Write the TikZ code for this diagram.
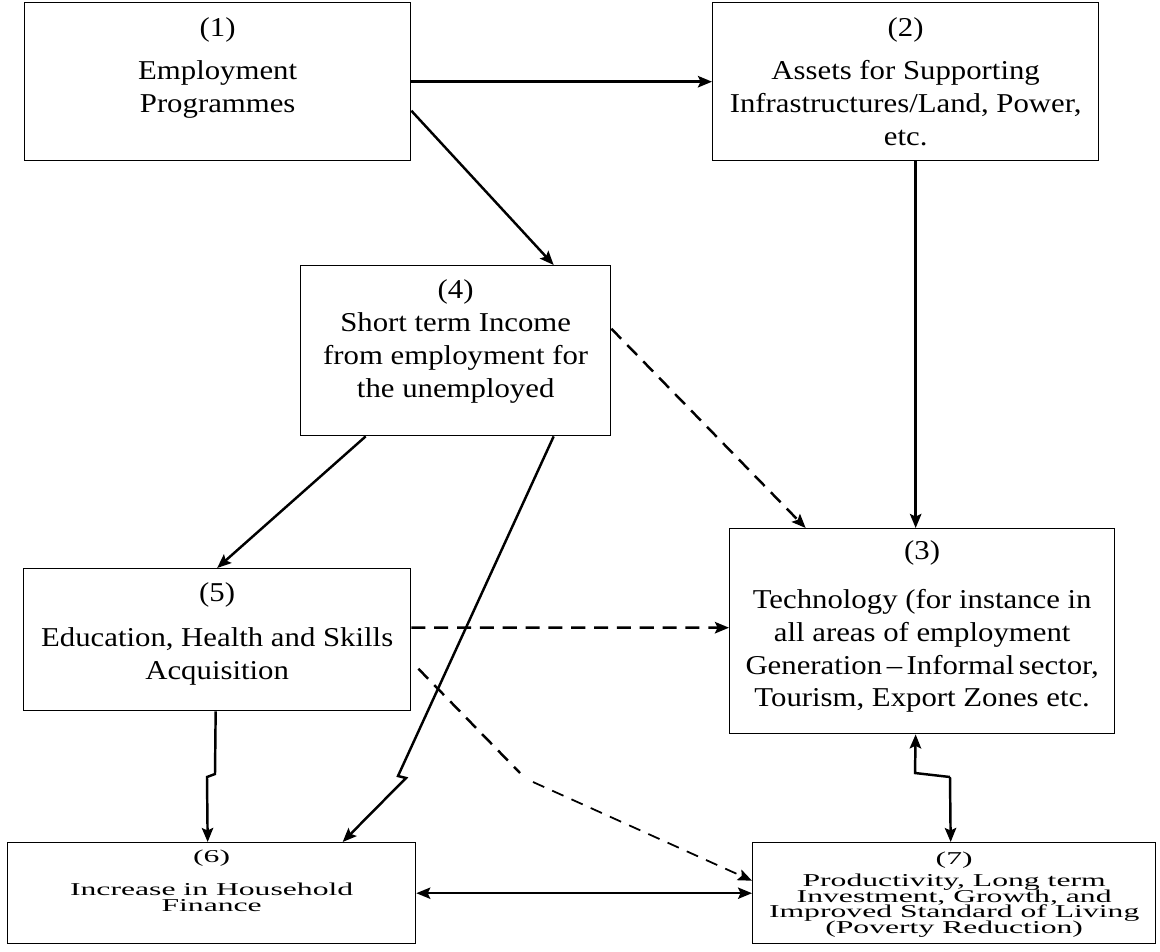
\documentclass[tikz,border=0pt]{standalone}
\usepackage{fontspec}
\setmainfont{Liberation Serif}
\newfontfamily\boxfont[FakeStretch=1.13]{Liberation Serif}
\newfontfamily\wideboxfont[FakeStretch=1.75]{Liberation Serif}
\newcommand\tightlines{\setlength{\lineskiplimit}{-6pt}}
\usetikzlibrary{arrows.meta,calc}

\begin{document}
\begin{tikzpicture}[x=0.02cm,y=-0.02cm,
    >={Stealth[length=8pt,width=6.5pt,inset=1.5pt]},
    box/.style={draw,line width=0.8pt,anchor=north west,inner sep=0pt},
    txt/.style={anchor=north,align=center,inner sep=0pt,
      font=\boxfont\fontsize{15.5}{18.7}\selectfont},
    smalltxt/.style={anchor=north,align=center,inner sep=0pt,
      font=\wideboxfont\fontsize{10.3}{8.8}\selectfont\tightlines},
    arr/.style={->,line width=1.4pt},
    dasharr/.style={arr,dash pattern=on 8pt off 5pt},
  ]
  \useasboundingbox (0,0) rectangle (1160,951);

  % boxes
  \node[box,minimum width=7.72cm,minimum height=3.16cm] (emp) at (24,2) {};
  \node[box,minimum width=7.72cm,minimum height=3.16cm] (assets) at (712,2) {};
  \node[box,minimum width=6.2cm,minimum height=3.4cm] (short) at (300,265) {};
  \node[box,minimum width=7.7cm,minimum height=4.1cm] (tech) at (729,528) {};
  \node[box,minimum width=7.74cm,minimum height=2.84cm] (edu) at (23,568) {};
  \node[box,minimum width=8.16cm,minimum height=2.02cm] (house) at (7,842) {};
  \node[box,minimum width=8.06cm,minimum height=2.02cm] (prod) at (752,842) {};

  \node[txt] (emp-t) at ($(emp.north)+(0,15.5)$)
    {(1)\\[5.7pt]Employment\\Programmes};
  \node[txt] (assets-t) at ($(assets.north)+(0,15.5)$)
    {(2)\\[5.7pt]Assets for Supporting\\Infrastructures/Land, Power,\\etc.};
  \node[txt] (short-t) at ($(short.north)+(0,14.5)$)
    {(4)\\Short term Income\\from employment for\\the unemployed};
  \node[txt] (tech-t) at ($(tech.north)+(0,12.5)$)
    {(3)\\[9pt]Technology (for instance in\\all areas of employment\\Generation\,–\,Informal\,sector,\\Tourism, Export Zones etc.};
  \node[txt] (edu-t) at ($(edu.north)+(0,14.5)$)
    {(5)\\[6.8pt]Education, Health and Skills\\Acquisition};
  \node[smalltxt] (house-t) at ($(house.north)+(0,8)$)
    {(6)\\[10pt]Increase in Household\\Finance};
  \node[smalltxt] (prod-t) at ($(prod.north)+(0,10)$)
    {(7)\\[3.7pt]Productivity, Long term\\Investment, Growth, and\\Improved Standard of Living\\(Poverty Reduction)};

  % connectors
  \coordinate (kinkA) at (398,776);
  \coordinate (kinkB) at (406,778);
  \coordinate (kinkC) at (215,774);
  \coordinate (kinkD) at (207,777);
  \coordinate (bend) at (520,773);
  \coordinate (kinkE) at (950,777);
  \coordinate (kinkF) at (915,773);

  \draw[arr] (emp.east) -- (assets.west);
  \draw[arr] ($(emp.east)+(0,29)$) -- ($(short.north)+(98,0)$);
  \draw[arr] ($(assets.south)+(10,0)$) -- ($(tech.north)+(-6.5,0)$);
  \draw[dasharr] ($(short.east)+(0,-22)$) -- ($(tech.north)+(-116.5,0)$);
  \draw[arr] ($(short.south)+(-90,0)$) -- (edu.north);
  \draw[arr] ($(short.south)+(98,0)$) -- (kinkA) -- (kinkB) -- ($(house.north)+(131,0)$);
  \draw[arr] ($(edu.south)+(-1.5,0)$) -- (kinkC) -- (kinkD) -- ($(house.north)+(-4,0)$);
  \draw[dasharr] ($(edu.east)+(0,-12)$) -- ($(tech.west)+(0,-3.5)$);
  \draw[line width=1.4pt,dash pattern=on 8pt off 5pt] ($(edu.east)+(7,29)$) -- (bend);
  \draw[arr,line width=1pt,dash pattern=on 7pt off 5pt] ($(bend)+(13,9)$) -- ($(prod.west)+(0,-12.5)$);
  \draw[arr] (kinkE) -- ($(prod.north)+(-3.5,0)$);
  \draw[arr] (kinkE) -- (kinkF) -- ($(tech.south)+(-6.5,0)$);
  \draw[<->,line width=1pt] (house.east) -- (prod.west);
\end{tikzpicture}
\end{document}
